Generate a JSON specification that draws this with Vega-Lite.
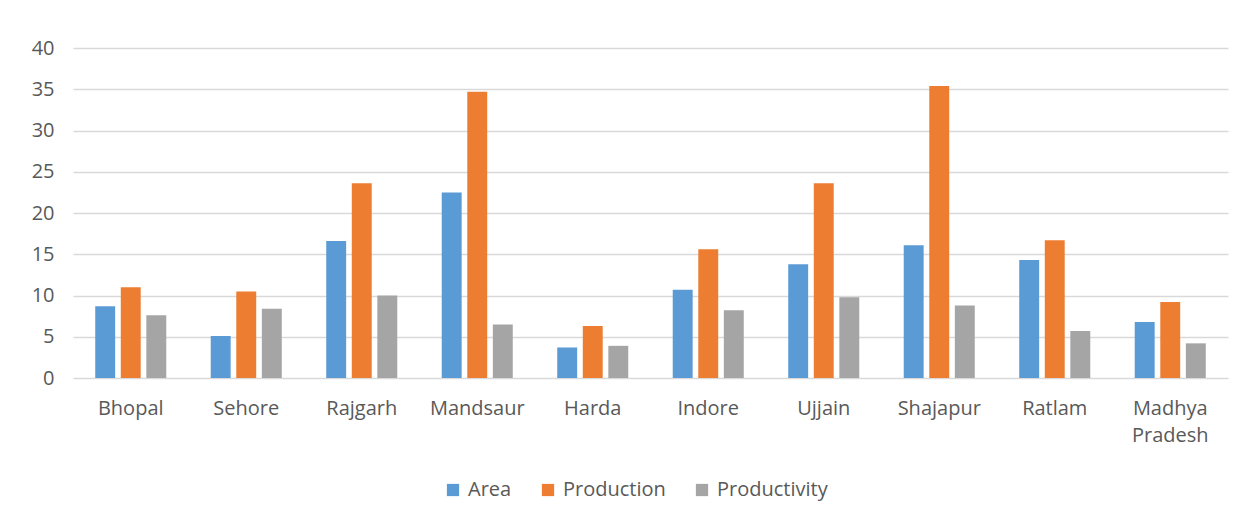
{
  "$schema": "https://vega.github.io/schema/vega-lite/v6.json",
  "width": 1155,
  "height": 330,
  "autosize": {"type": "none"},
  "padding": {"left": 73, "top": 48, "right": 24, "bottom": 149},
  "background": "#ffffff",
  "data": {
    "values": [
      {"district": "Bhopal", "series": "Area", "value": 8.7},
      {"district": "Bhopal", "series": "Production", "value": 11.0},
      {"district": "Bhopal", "series": "Productivity", "value": 7.6},
      {"district": "Sehore", "series": "Area", "value": 5.1},
      {"district": "Sehore", "series": "Production", "value": 10.5},
      {"district": "Sehore", "series": "Productivity", "value": 8.4},
      {"district": "Rajgarh", "series": "Area", "value": 16.6},
      {"district": "Rajgarh", "series": "Production", "value": 23.6},
      {"district": "Rajgarh", "series": "Productivity", "value": 10.0},
      {"district": "Mandsaur", "series": "Area", "value": 22.5},
      {"district": "Mandsaur", "series": "Production", "value": 34.7},
      {"district": "Mandsaur", "series": "Productivity", "value": 6.5},
      {"district": "Harda", "series": "Area", "value": 3.7},
      {"district": "Harda", "series": "Production", "value": 6.3},
      {"district": "Harda", "series": "Productivity", "value": 3.9},
      {"district": "Indore", "series": "Area", "value": 10.7},
      {"district": "Indore", "series": "Production", "value": 15.6},
      {"district": "Indore", "series": "Productivity", "value": 8.2},
      {"district": "Ujjain", "series": "Area", "value": 13.8},
      {"district": "Ujjain", "series": "Production", "value": 23.6},
      {"district": "Ujjain", "series": "Productivity", "value": 9.8},
      {"district": "Shajapur", "series": "Area", "value": 16.1},
      {"district": "Shajapur", "series": "Production", "value": 35.4},
      {"district": "Shajapur", "series": "Productivity", "value": 8.8},
      {"district": "Ratlam", "series": "Area", "value": 14.3},
      {"district": "Ratlam", "series": "Production", "value": 16.7},
      {"district": "Ratlam", "series": "Productivity", "value": 5.7},
      {"district": "Madhya Pradesh", "series": "Area", "value": 6.8},
      {"district": "Madhya Pradesh", "series": "Production", "value": 9.2},
      {"district": "Madhya Pradesh", "series": "Productivity", "value": 4.2}
    ]
  },
  "mark": {"type": "bar"},
  "encoding": {
    "x": {
      "field": "district",
      "type": "nominal",
      "sort": null,
      "scale": {"paddingInner": 0.385, "paddingOuter": 0.1925},
      "axis": {
        "title": null,
        "domain": false,
        "ticks": false,
        "labelAngle": 0,
        "labelPadding": 20,
        "labelFont": "Open Sans",
        "labelFontSize": 20,
        "labelColor": "#595959",
        "labelLineHeight": 27,
        "labelBaseline": "top",
        "labelExpr": "datum.label == 'Madhya Pradesh' ? ['Madhya', 'Pradesh'] : datum.label"
      }
    },
    "xOffset": {
      "field": "series",
      "type": "nominal",
      "scale": {"paddingInner": 0.22}
    },
    "y": {
      "field": "value",
      "type": "quantitative",
      "scale": {"domain": [0, 40]},
      "axis": {
        "title": null,
        "domain": false,
        "ticks": false,
        "values": [0, 5, 10, 15, 20, 25, 30, 35, 40],
        "labelPadding": 19,
        "labelFont": "Open Sans",
        "labelFontSize": 20,
        "labelColor": "#595959",
        "gridColor": "#d9d9d9",
        "gridWidth": 1.5
      }
    },
    "color": {
      "field": "series",
      "type": "nominal",
      "scale": {
        "domain": ["Area", "Production", "Productivity"],
        "range": ["#5b9bd5", "#ed7d31", "#a5a5a5"]
      },
      "legend": {
        "title": null,
        "orient": "none",
        "direction": "horizontal",
        "legendX": 370,
        "legendY": 432,
        "symbolType": "square",
        "symbolSize": 150,
        "symbolStrokeWidth": 0,
        "labelFont": "Open Sans",
        "labelFontSize": 20,
        "labelColor": "#595959",
        "columnPadding": 26,
        "labelOffset": 5
      }
    }
  },
  "config": {"view": {"stroke": null}}
}
